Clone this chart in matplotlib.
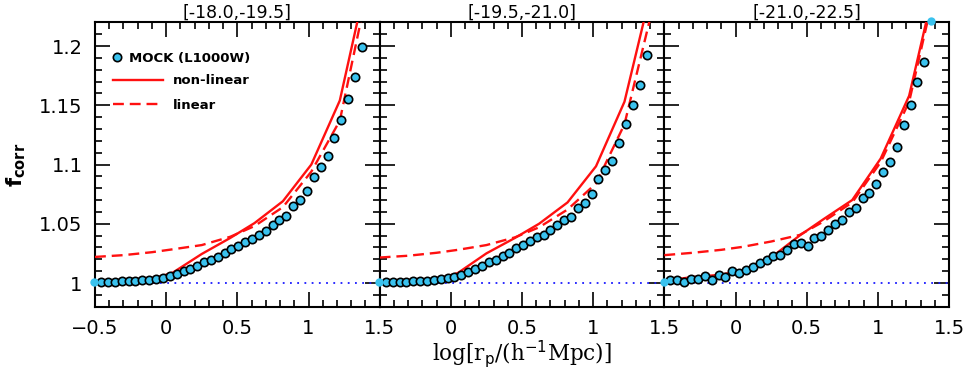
import matplotlib
matplotlib.use('Agg')
import matplotlib.pyplot as plt
import numpy as np
from matplotlib.ticker import MultipleLocator, FixedLocator, FixedFormatter

# ---------------- data ----------------
titles = ['[-18.0,-19.5]', '[-19.5,-21.0]', '[-21.0,-22.5]']

log_rp = [-0.505, -0.457, -0.409, -0.360, -0.312, -0.264, -0.216, -0.168, -0.119, -0.071,
          -0.023, 0.025, 0.073, 0.122, 0.170, 0.218, 0.266, 0.314, 0.363, 0.411,
          0.459, 0.507, 0.555, 0.604, 0.652, 0.700, 0.748, 0.796, 0.845, 0.893,
          0.941, 0.989, 1.037, 1.086, 1.134, 1.182, 1.230, 1.278, 1.327, 1.375]

mock_1 = [1.0008, 1.0008, 1.0008, 1.0012, 1.0014, 1.0014, 1.0020, 1.0023, 1.0029, 1.0034,
          1.0042, 1.0057, 1.0076, 1.0099, 1.0122, 1.0147, 1.0173, 1.0198, 1.0220, 1.0249,
          1.0286, 1.0310, 1.0347, 1.0373, 1.0404, 1.0441, 1.0489, 1.0531, 1.0565, 1.0650,
          1.0701, 1.0777, 1.0898, 1.0983, 1.1068, 1.1224, 1.1376, 1.1554, 1.1737, 1.1992]

mock_2 = [1.0008, 1.0008, 1.0006, 1.0008, 1.0012, 1.0014, 1.0017, 1.0020, 1.0023, 1.0031,
          1.0040, 1.0054, 1.0071, 1.0097, 1.0122, 1.0147, 1.0175, 1.0198, 1.0226, 1.0257,
          1.0295, 1.0320, 1.0356, 1.0385, 1.0402, 1.0449, 1.0492, 1.0534, 1.0554, 1.0631,
          1.0673, 1.0749, 1.0881, 1.0955, 1.1031, 1.1178, 1.1339, 1.1500, 1.1670, 1.1924]

mock_3 = [1.0008, 1.0026, 1.0023, 1.0011, 1.0037, 1.0033, 1.0055, 1.0029, 1.0066, 1.0054,
          1.0104, 1.0084, 1.0108, 1.0136, 1.0172, 1.0195, 1.0225, 1.0239, 1.0282, 1.0330,
          1.0334, 1.0316, 1.0376, 1.0399, 1.0450, 1.0497, 1.0528, 1.0600, 1.0633, 1.0715,
          1.0758, 1.0839, 1.0940, 1.1018, 1.1145, 1.1333, 1.1506, 1.1692, 1.1862, 1.2215]

model_x = [-0.5, -0.3, -0.1, 0.05, 0.25, 0.45, 0.62, 0.82, 1.02, 1.22, 1.42]

nonlin_1 = [1.0005, 1.0010, 1.0030, 1.0090, 1.0245, 1.0380, 1.0505, 1.0690, 1.1000, 1.1540, 1.2620]
nonlin_2 = [1.0012, 1.0015, 1.0030, 1.0085, 1.0250, 1.0380, 1.0500, 1.0680, 1.0985, 1.1530, 1.2530]
nonlin_3 = [1.0020, 1.0050, 1.0070, 1.0110, 1.0215, 1.0400, 1.0540, 1.0700, 1.1050, 1.1580, 1.2620]

lin_1 = [1.0220, 1.0235, 1.0260, 1.0285, 1.0320, 1.0390, 1.0480, 1.0640, 1.0940, 1.1370, 1.2510]
lin_2 = [1.0215, 1.0230, 1.0255, 1.0280, 1.0320, 1.0385, 1.0470, 1.0620, 1.0840, 1.1340, 1.2330]
lin_3 = [1.0235, 1.0255, 1.0280, 1.0305, 1.0350, 1.0405, 1.0520, 1.0680, 1.1020, 1.1530, 1.2580]

mocks = [mock_1, mock_2, mock_3]
nonlins = [nonlin_1, nonlin_2, nonlin_3]
lins = [lin_1, lin_2, lin_3]

xticks = [-0.5, 0, 0.5, 1, 1.5]
xtick_labels_first = ['\u22120.5', '0', '0.5', '1', '1.5']
xtick_labels_other = ['', '0', '0.5', '1', '1.5']
yticks = [1.0, 1.05, 1.1, 1.15, 1.2]
ytick_labels = ['1', '1.05', '1.1', '1.15', '1.2']

XLIM = (-0.5, 1.5)
YLIM = (0.98, 1.22)

# ---------------- style ----------------
plt.rcParams['font.family'] = ['DejaVu Sans']
FILL = '#3ac2ee'
RED = '#ff1010'
BLUE = '#1a1aff'

fig, axes = plt.subplots(1, 3, figsize=(9.64, 3.73), dpi=100, sharey=True)
fig.subplots_adjust(left=95/964, right=949/964, top=1-22.3/373, bottom=1-306.7/373, wspace=0)

for k, ax in enumerate(axes):
    x = np.array(log_rp)
    y = np.array(mocks[k])
    inside = (x >= XLIM[0]) & (y <= YLIM[1])

    # reference line at unity
    ax.axhline(1.0, color=BLUE, lw=1.3, linestyle=(0, (1, 3)), zorder=2)

    # model curves
    ax.plot(model_x, nonlins[k], color=RED, lw=1.7, zorder=3, label='non-linear')
    ax.plot(model_x, lins[k], color=RED, lw=1.7, dashes=(4.6, 2.5), zorder=3, label='linear')

    # mock points
    ax.plot(x[inside], y[inside], 'o', ms=6.0, mfc=FILL, mec='black', mew=1.2,
            zorder=4, clip_on=False, label='MOCK (L1000W)')
    ax.plot(x[~inside], y[~inside], 'o', ms=6.0, mfc=FILL, mec='none',
            zorder=6, clip_on=False)

    ax.set_xlim(*XLIM)
    ax.set_ylim(*YLIM)
    ax.xaxis.set_major_locator(FixedLocator(xticks))
    ax.xaxis.set_major_formatter(FixedFormatter(xtick_labels_first if k == 0 else xtick_labels_other))
    ax.xaxis.set_minor_locator(MultipleLocator(0.1))
    ax.yaxis.set_major_locator(FixedLocator(yticks))
    ax.yaxis.set_major_formatter(FixedFormatter(ytick_labels))
    ax.yaxis.set_minor_locator(MultipleLocator(0.01))
    ax.tick_params(which='both', direction='in', top=True, right=True, width=1.2, color='black')
    ax.tick_params(which='major', length=10.5, labelsize=14, pad=9)
    ax.tick_params(which='minor', length=4.8)
    if k > 0:
        ax.tick_params(labelleft=False)
    for sp in ax.spines.values():
        sp.set_linewidth(1.5)
    ax.set_title(titles[k], fontsize=12.5, pad=3.5)

# legend in first panel
ax0 = axes[0]
handles, labels = ax0.get_legend_handles_labels()
leg1 = ax0.legend([handles[2]], [labels[2]], loc='upper left', bbox_to_anchor=(0.035, 0.925),
                  frameon=False, handlelength=0.6, handletextpad=0.65,
                  prop={'weight': 'bold', 'size': 9.5}, borderaxespad=0.2)
ax0.add_artist(leg1)
ax0.legend(handles[:2], labels[:2], loc='upper left', bbox_to_anchor=(0.035, 0.845),
           frameon=False, handlelength=3.8, handletextpad=0.75, labelspacing=0.85,
           prop={'weight': 'bold', 'size': 9.5}, borderaxespad=0.2)

axes[0].set_ylabel(r'$\mathbf{f_{corr}}$', fontsize=15, labelpad=8)
axes[1].set_xlabel(r'log[r$_{\rm p}$/(h$^{-1}$Mpc)]', fontsize=15.5, family='DejaVu Serif', labelpad=0)

fig.savefig('out.png', dpi=100)
